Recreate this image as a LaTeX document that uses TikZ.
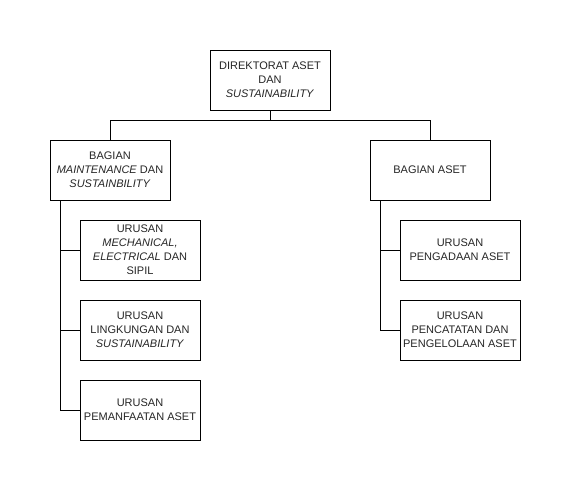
\documentclass[tikz,border=0pt]{standalone}
\usepackage{fontspec}
\setmainfont{Liberation Sans}
\begin{document}
\begin{tikzpicture}[x=1pt,y=-1pt,
  box/.style={draw=black,line width=1pt,fill=white,minimum width=120pt,minimum height=60pt,inner sep=0pt,align=center,font=\fontsize{11}{14}\selectfont,text=black!85},
  conn/.style={draw=black,line width=1pt}]
\useasboundingbox[fill=white] (0,0) rectangle (571,491);
\node[box] (dir) at (270,80) {DIREKTORAT ASET\\DAN\\\textit{SUSTAINABILITY}};
\node[box] (bm) at (110,170) {BAGIAN\\\textit{MAINTENANCE} DAN\\\textit{SUSTAINBILITY}};
\node[box] (ba) at (430,170) {BAGIAN ASET};
\node[box] (u1) at (140,250) {URUSAN\\\textit{MECHANICAL,}\\\textit{ELECTRICAL} DAN\\SIPIL};
\node[box] (u2) at (140,330) {URUSAN\\LINGKUNGAN DAN\\\textit{SUSTAINABILITY}};
\node[box] (u3) at (140,410) {URUSAN\\PEMANFAATAN ASET};
\node[box] (u4) at (460,250) {URUSAN\\PENGADAAN ASET};
\node[box] (u5) at (460,330) {URUSAN\\PENCATATAN DAN\\PENGELOLAAN ASET};
\coordinate (j) at (270,120);
\draw[conn] (dir.south) -- (j) -| (bm.north);
\draw[conn] (j) -| (ba.north);
\draw[conn] ([xshift=-50pt]bm.south) |- (u1.west);
\draw[conn] ([xshift=-50pt]bm.south) |- (u2.west);
\draw[conn] ([xshift=-50pt]bm.south) |- (u3.west);
\draw[conn] ([xshift=-50pt]ba.south) |- (u4.west);
\draw[conn] ([xshift=-50pt]ba.south) |- (u5.west);
\end{tikzpicture}
\end{document}
